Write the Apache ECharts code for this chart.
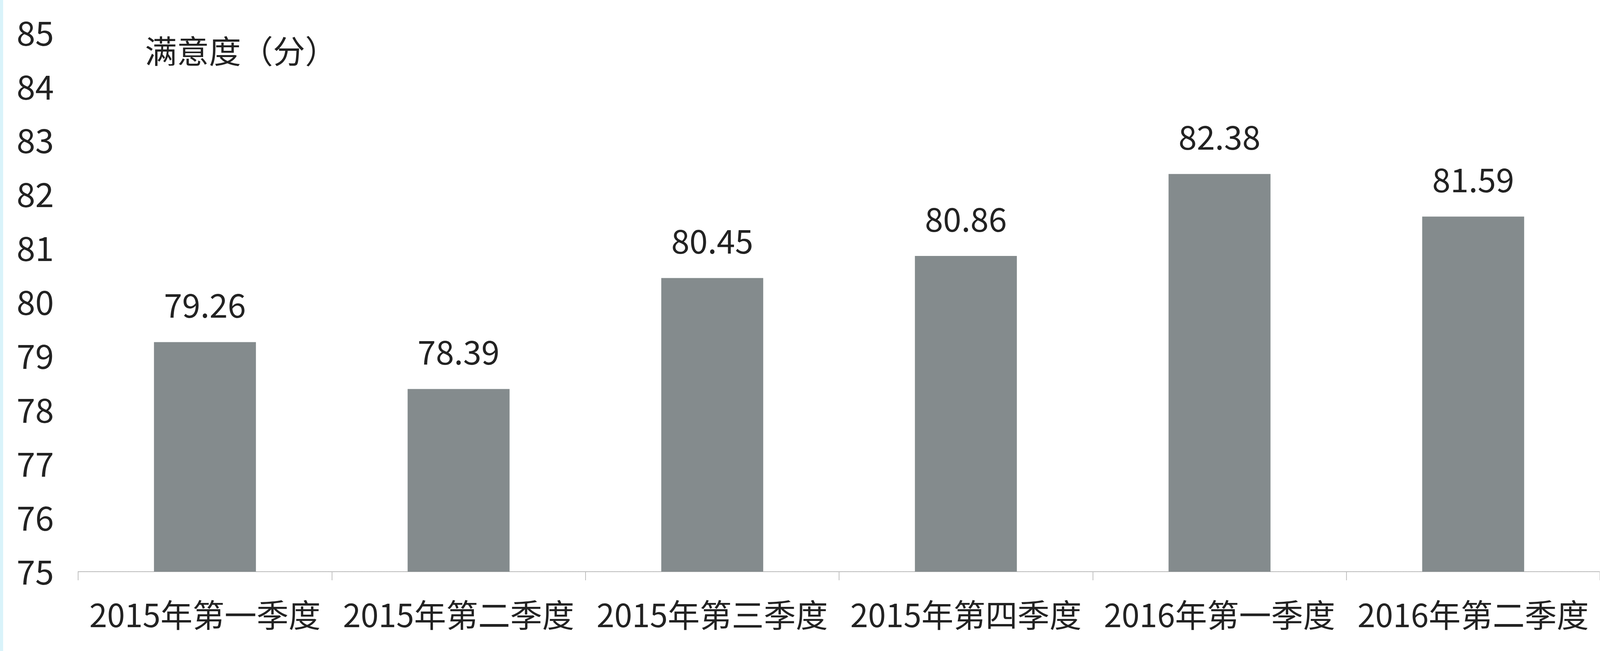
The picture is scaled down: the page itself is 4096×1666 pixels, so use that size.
<!DOCTYPE html>
<html>
<head>
<meta charset="utf-8">
<script src="https://cdn.jsdelivr.net/npm/echarts@6/dist/echarts.min.js"></script>
<style>
html,body{margin:0;padding:0;background:#fff;}
#chart{width:4096px;height:1666px;}
</style>
</head>
<body>
<div id="chart"></div>
<script>
const categories = ['2015年第一季度','2015年第二季度','2015年第三季度','2015年第四季度','2016年第一季度','2016年第二季度'];
const satisfaction = [79.26, 78.39, 80.45, 80.86, 82.38, 81.59];
const yTitle = '满意度（分）';
const yMin = 75, yMax = 85, yStep = 1;

const FONT = '"Noto Sans CJK SC", "Noto Sans", sans-serif';
const chart = echarts.init(document.getElementById('chart'), null, {renderer:'canvas'});
chart.setOption({
  backgroundColor: '#ffffff',
  animation: false,
  grid: {left: 200, right: 0, top: 84, bottom: 203, containLabel: false},
  graphic: [
    {type:'rect', left:0, top:0, shape:{width:8, height:1666}, style:{fill:'#d9f3fa'}},
    {type:'text', left: 371, top: 90, style:{text: yTitle, font: '82px ' + FONT, fill:'#222'}}
  ],
  xAxis: {
    type: 'category',
    data: categories,
    boundaryGap: true,
    axisLine: {show: true, lineStyle: {color:'#b0b0b0', width: 2, type: 'dotted'}},
    axisTick: {show: true, length: 22, lineStyle: {color:'#c0c0c0', width: 2}},
    axisLabel: {fontSize: 82, fontFamily: FONT, color: '#222', margin: 70, interval: 0}
  },
  yAxis: {
    type: 'value',
    min: yMin, max: yMax, interval: yStep,
    axisLine: {show: false},
    axisTick: {show: false},
    splitLine: {show: false},
    axisLabel: {fontSize: 86, fontFamily: FONT, color: '#222', margin: 62}
  },
  series: [{
    type: 'bar',
    data: satisfaction,
    barWidth: 261,
    itemStyle: {color: '#848b8d'},
    label: {show: true, position: 'top', distance: 52, fontSize: 84, fontFamily: FONT, color: '#222',
      formatter: p => p.value.toFixed(2)}
  }]
});
</script>
</body>
</html>
